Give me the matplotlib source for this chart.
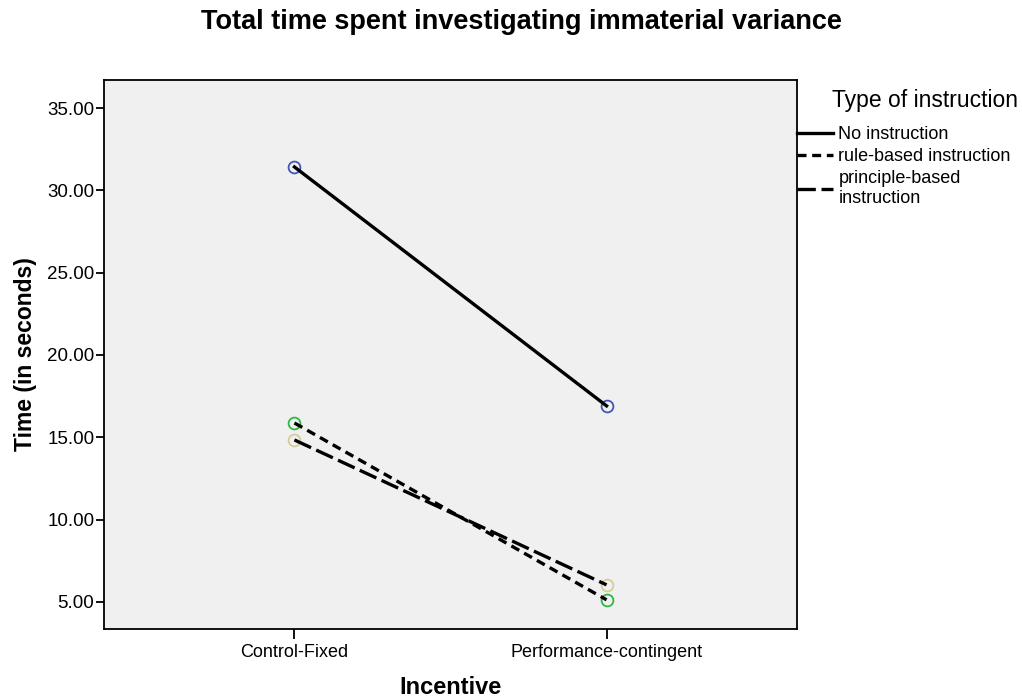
import matplotlib.pyplot as plt
import matplotlib.ticker as mticker

plt.rcParams['font.family'] = ['Liberation Sans', 'DejaVu Sans']

# means per incentive condition
incentive = ['Control-Fixed', 'Performance-contingent']
no_instr = [31.42, 16.91]
rule_instr = [15.87, 5.13]
principle_instr = [14.84, 6.04]

series = ['No instruction', 'rule-based instruction', 'principle-based\ninstruction']
marker_colors = ['#4457b0', '#2fb845', '#d6cc95']

fig = plt.figure(figsize=(10.22, 6.97), dpi=100)
ax = fig.add_axes([0.1018, 0.0976, 0.678, 0.7876])
ax.set_facecolor('#f0f0f0')

x = [0, 1]
styles = [dict(linestyle='-'),
          dict(linestyle=(0, (2.7, 1.7))),
          dict(linestyle=(0, (5.5, 1.7)))]
for vals, lab, col, st in zip([no_instr, rule_instr, principle_instr],
                              series, marker_colors, styles):
    ax.plot(x, vals, color='black', lw=2.4, label=lab, zorder=3, **st)
    ax.plot(x, vals, linestyle='none', marker='o', ms=8.5, mfc='none',
            mec=col, mew=1.3, zorder=2)

ax.set_xlim(-0.61, 1.61)
ax.set_ylim(3.36, 36.7)
ax.set_xticks(x)
ax.set_xticklabels(incentive, fontsize=13)
ax.set_yticks([5, 10, 15, 20, 25, 30, 35])
ax.yaxis.set_major_formatter(mticker.FormatStrFormatter('%.2f'))
ax.tick_params(axis='y', labelsize=13.5, length=6, width=1.3, pad=1)
ax.tick_params(axis='x', length=7, width=1.3, pad=4)
for s in ax.spines.values():
    s.set_linewidth(1.3)

ax.set_xlabel('Incentive', fontsize=17, fontweight='bold')
ax.xaxis.set_label_coords(0.5, -0.085)
ax.set_ylabel('Time (in seconds)', fontsize=16.5, fontweight='bold')
ax.yaxis.set_label_coords(-0.097, 0.5)
fig.suptitle('Total time spent investigating immaterial variance',
             x=0.51, y=0.968, va='center', fontsize=19.5, fontweight='bold')

# legend title placed on its own, entries below it
fig.text(0.996, 1 - 101 / 697, 'Type of instruction', ha='right', va='center',
         fontsize=16.5)
leg = ax.legend(loc='upper left', bbox_to_anchor=(1.0, 0.916), frameon=False,
                fontsize=13, handlelength=2.0, handletextpad=0.3,
                borderaxespad=0, borderpad=0, labelspacing=0.28)

fig.savefig('out.png', dpi=100)
